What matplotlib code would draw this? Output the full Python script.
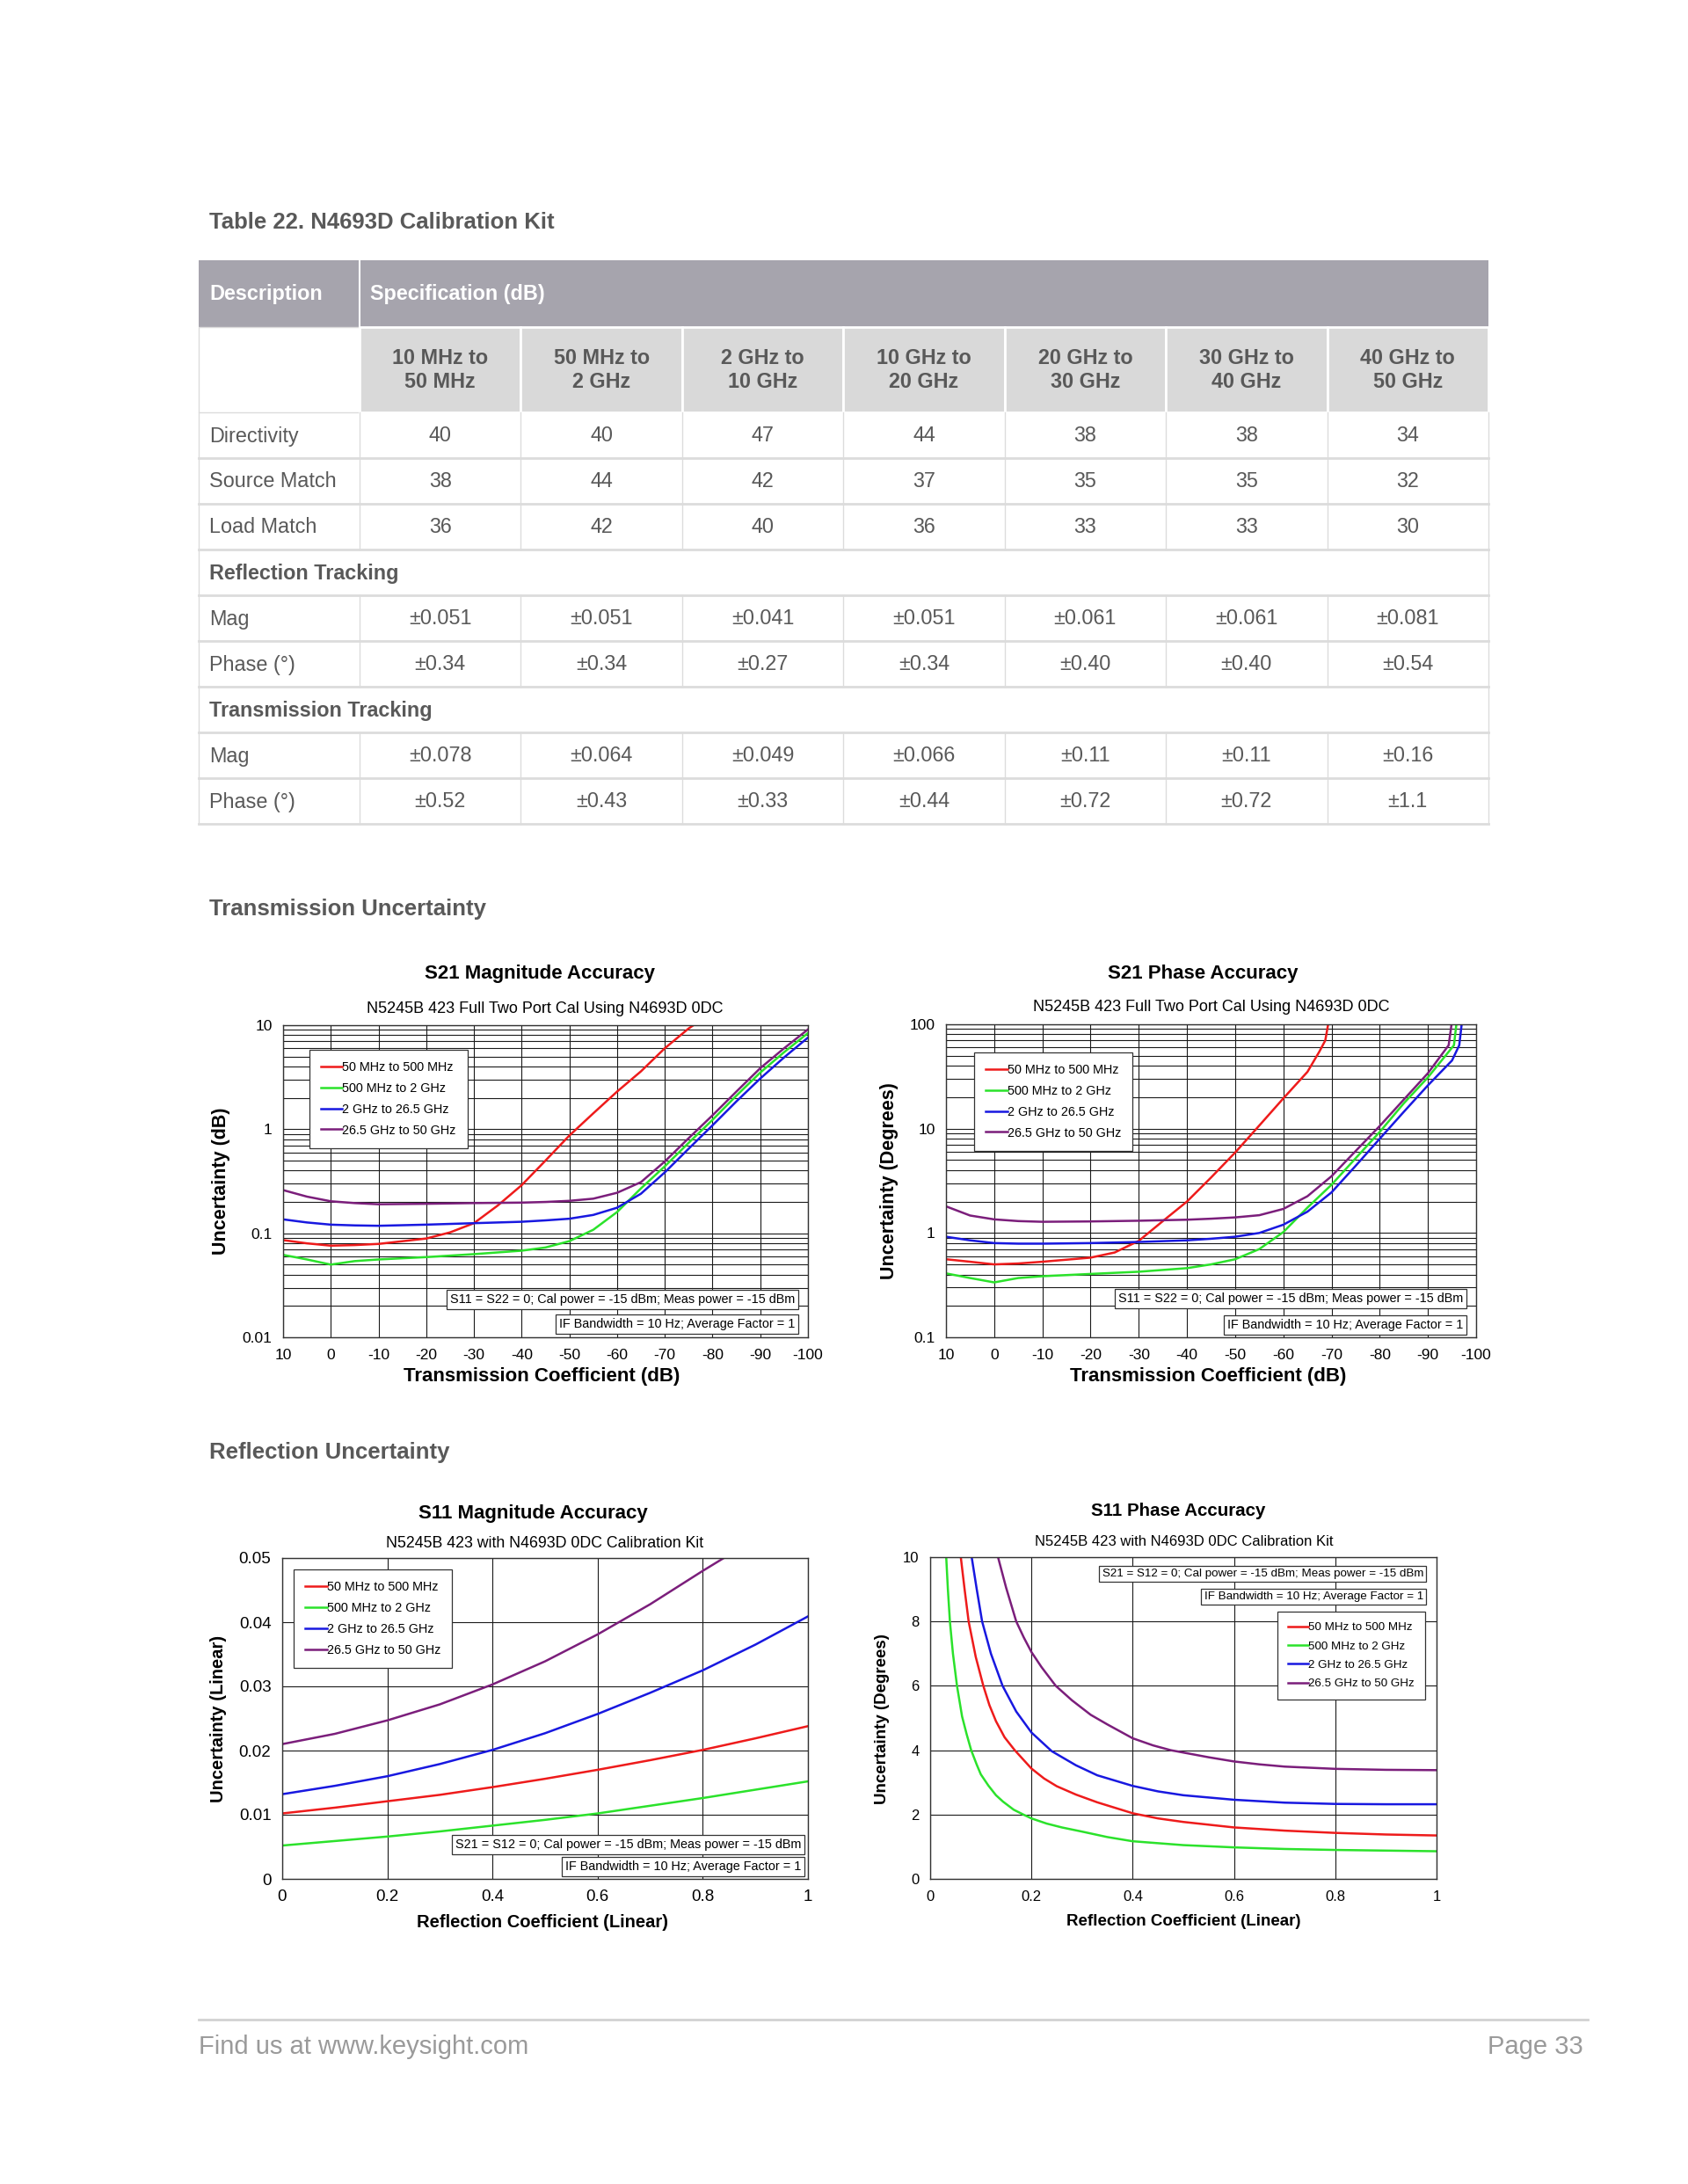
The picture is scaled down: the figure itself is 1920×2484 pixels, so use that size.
import matplotlib.pyplot as plt
from matplotlib.patches import Rectangle
from matplotlib.ticker import FixedLocator, FuncFormatter, NullFormatter

plt.rcParams['font.family'] = ['Liberation Sans', 'DejaVu Sans']
plt.rcParams['axes.unicode_minus'] = False

W, H = 1920, 2484
TXT = '#595959'

# ---------------- table data ----------------
bands = ['10 MHz to\n50 MHz', '50 MHz to\n2 GHz', '2 GHz to\n10 GHz', '10 GHz to\n20 GHz',
         '20 GHz to\n30 GHz', '30 GHz to\n40 GHz', '40 GHz to\n50 GHz']
directivity = ['40', '40', '47', '44', '38', '38', '34']
source_match = ['38', '44', '42', '37', '35', '35', '32']
load_match = ['36', '42', '40', '36', '33', '33', '30']
refl_mag = ['±0.051', '±0.051', '±0.041', '±0.051', '±0.061', '±0.061', '±0.081']
refl_phase = ['±0.34', '±0.34', '±0.27', '±0.34', '±0.40', '±0.40', '±0.54']
trans_mag = ['±0.078', '±0.064', '±0.049', '±0.066', '±0.11', '±0.11', '±0.16']
trans_phase = ['±0.52', '±0.43', '±0.33', '±0.44', '±0.72', '±0.72', '±1.1']

# ---------------- curve data ----------------
series_names = ['50 MHz to 500 MHz', '500 MHz to 2 GHz', '2 GHz to 26.5 GHz', '26.5 GHz to 50 GHz']
colors = ['#ee1b1b', '#2be22b', '#1818e0', '#7b1e7b']

# S21 magnitude (dB) vs transmission coefficient (dB)
s21m_red_x = [10, 5, 0, -5, -10, -20, -25, -30, -35, -40, -45, -50, -55, -60, -65, -70, -75, -76]
s21m_red = [0.086, 0.080, 0.076, 0.077, 0.079, 0.089, 0.102, 0.125, 0.185, 0.29, 0.50, 0.87, 1.42,
            2.3, 3.6, 6.0, 9.3, 10]
s21m_x = [10, 5, 0, -5, -10, -20, -30, -40, -45, -50, -55, -60, -65, -70, -75, -80, -85, -90, -95, -100]
s21m_green = [0.062, 0.056, 0.050, 0.054, 0.056, 0.059, 0.063, 0.068, 0.073, 0.084, 0.108, 0.160,
              0.27, 0.44, 0.74, 1.23, 2.1, 3.5, 5.5, 8.4]
s21m_blue = [0.136, 0.127, 0.121, 0.119, 0.118, 0.121, 0.125, 0.129, 0.133, 0.138, 0.150, 0.176,
             0.24, 0.385, 0.65, 1.09, 1.85, 3.07, 4.9, 7.6]
s21m_purple = [0.26, 0.225, 0.203, 0.195, 0.19, 0.192, 0.195, 0.197, 0.200, 0.205, 0.215, 0.245,
               0.31, 0.49, 0.82, 1.36, 2.3, 3.86, 6.0, 9.1]

# S21 phase (degrees)
s21p_red_x = [10, 5, 0, -5, -10, -20, -25, -30, -35, -40, -45, -50, -55, -60, -65, -67.5, -68.7, -69.3]
s21p_red = [0.56, 0.53, 0.50, 0.51, 0.53, 0.58, 0.65, 0.84, 1.3, 2.0, 3.4, 5.9, 10.7, 19.5, 35, 55,
            70, 100]
s21p_green_x = [10, 5, 0, -5, -10, -20, -30, -40, -45, -50, -55, -60, -65, -70, -75, -80, -85, -90,
                -95.4, -95.9]
s21p_green = [0.41, 0.37, 0.336, 0.37, 0.385, 0.405, 0.425, 0.46, 0.50, 0.56, 0.70, 1.02, 1.75, 2.9,
              5.2, 9.3, 17.5, 31, 63, 100]
s21p_blue_x = [10, 5, 0, -5, -10, -20, -30, -40, -45, -50, -55, -60, -65, -70, -75, -80, -85, -90,
               -95, -96.5, -97]
s21p_blue = [0.92, 0.85, 0.80, 0.79, 0.79, 0.80, 0.82, 0.85, 0.88, 0.92, 1.0, 1.2, 1.6, 2.45, 4.4,
             8.0, 14.5, 26, 45, 63, 100]
s21p_purple_x = [10, 5, 0, -5, -10, -20, -30, -40, -45, -50, -55, -60, -65, -70, -75, -80, -85, -90,
                 -94.3, -94.9]
s21p_purple = [1.8, 1.47, 1.35, 1.3, 1.28, 1.29, 1.31, 1.34, 1.37, 1.41, 1.48, 1.7, 2.25, 3.5, 6.1,
               10.6, 19, 34, 63, 100]

# S11 magnitude (linear) vs reflection coefficient
s11m_x = [0, 0.1, 0.2, 0.3, 0.4, 0.5, 0.6, 0.7, 0.8, 0.9, 1.0]
s11m_red = [0.0102, 0.0111, 0.0121, 0.0131, 0.0143, 0.0156, 0.0170, 0.0185, 0.0201, 0.0219, 0.0238]
s11m_green = [0.0052, 0.0059, 0.0066, 0.0074, 0.0083, 0.0092, 0.0102, 0.0114, 0.0126, 0.0139, 0.0152]
s11m_blue = [0.0132, 0.0145, 0.0160, 0.0179, 0.0201, 0.0227, 0.0257, 0.0290, 0.0325, 0.0365, 0.0409]
s11m_purple_x = [0, 0.1, 0.2, 0.3, 0.4, 0.5, 0.6, 0.7, 0.8, 0.84]
s11m_purple = [0.0210, 0.0226, 0.0247, 0.0272, 0.0303, 0.0339, 0.0381, 0.0428, 0.0480, 0.0500]

# S11 phase (degrees)
s11p_green_x = [0.0317, 0.035, 0.039, 0.045, 0.053, 0.063, 0.072, 0.081, 0.092, 0.10, 0.115, 0.13,
                0.144, 0.165, 0.184, 0.2, 0.23, 0.26, 0.3, 0.35, 0.4, 0.5, 0.6, 0.7, 0.8, 0.9, 1.0]
s11p_green = [10, 9, 8, 7, 6, 5.05, 4.5, 4, 3.55, 3.25, 2.9, 2.6, 2.4, 2.15, 2.0, 1.88, 1.72, 1.6,
              1.47, 1.3, 1.17, 1.05, 0.98, 0.93, 0.90, 0.88, 0.86]
s11p_red_x = [0.0605, 0.068, 0.076, 0.09, 0.105, 0.117, 0.13, 0.147, 0.167, 0.2, 0.225, 0.25, 0.288,
              0.33, 0.4, 0.45, 0.5, 0.6, 0.7, 0.8, 0.9, 1.0]
s11p_red = [10, 9, 8, 6.9, 6, 5.4, 4.9, 4.4, 4.0, 3.43, 3.12, 2.88, 2.62, 2.38, 2.04, 1.88, 1.77,
            1.6, 1.5, 1.43, 1.38, 1.35]
s11p_blue_x = [0.082, 0.092, 0.1026, 0.12, 0.143, 0.17, 0.2, 0.24, 0.288, 0.33, 0.4, 0.45, 0.5, 0.6,
               0.7, 0.8, 0.9, 1.0]
s11p_blue = [10, 9, 8, 7, 6, 5.2, 4.55, 3.97, 3.53, 3.22, 2.89, 2.72, 2.6, 2.46, 2.37, 2.33, 2.32, 2.32]
s11p_purple_x = [0.134, 0.15, 0.17, 0.185, 0.2, 0.22, 0.248, 0.28, 0.317, 0.35, 0.4, 0.44, 0.475,
                 0.55, 0.6, 0.65, 0.7, 0.8, 0.9, 1.0]
s11p_purple = [10, 9.05, 8, 7.5, 7.05, 6.58, 6.0, 5.55, 5.1, 4.8, 4.37, 4.15, 4.0, 3.78, 3.65, 3.56,
               3.49, 3.42, 3.39, 3.38]

notes_s21 = ['S11 = S22 = 0; Cal power = -15 dBm; Meas power = -15 dBm',
             'IF Bandwidth = 10 Hz; Average Factor = 1']
notes_s11 = ['S21 = S12 = 0; Cal power = -15 dBm; Meas power = -15 dBm',
             'IF Bandwidth = 10 Hz; Average Factor = 1']

fig = plt.figure(figsize=(W / 100, H / 100), dpi=100)
fig.patch.set_facecolor('white')

bg = fig.add_axes([0, 0, 1, 1])
bg.set_xlim(0, W)
bg.set_ylim(H, 0)
bg.axis('off')

# ---------------- table ----------------
bg.text(238, 253, 'Table 22. N4693D Calibration Kit', fontsize=18.5, fontweight='bold',
        color=TXT, va='center')

tl, tr = 226, 1693
c0 = 409
cw = (tr - c0) / 7
col_x = [c0 + cw * i for i in range(8)]
LINE = '#dcdcdc'
FS = 16.8

bg.add_patch(Rectangle((tl, 296), tr - tl, 76, fc='#a6a4ad', ec='none'))
bg.plot([c0, c0], [296, 372], color='white', lw=1.5)
bg.text(238, 334, 'Description', fontsize=FS, fontweight='bold', color='white', va='center')
bg.text(421, 334, 'Specification (dB)', fontsize=FS, fontweight='bold', color='white', va='center')

bg.add_patch(Rectangle((tl, 372), c0 - tl, 97, fc='white', ec=LINE, lw=1))
for i, b in enumerate(bands):
    bg.add_patch(Rectangle((col_x[i], 372), cw, 97, fc='#d9d9d9', ec='white', lw=2))
    bg.text(col_x[i] + cw / 2, 421, b, fontsize=FS, fontweight='bold', color=TXT,
            ha='center', va='center', linespacing=1.2)

rows = [('Directivity', directivity), ('Source Match', source_match), ('Load Match', load_match),
        ('Reflection Tracking', None), ('Mag', refl_mag), ('Phase (°)', refl_phase),
        ('Transmission Tracking', None), ('Mag', trans_mag), ('Phase (°)', trans_phase)]
y0 = 469
rh = 52
for r, (name, vals) in enumerate(rows):
    top = y0 + r * rh
    bot = top + rh
    yc = top + rh / 2 + 1
    bg.plot([tl, tr], [bot, bot], color=LINE, lw=2)
    bg.plot([tl, tl], [top, bot], color=LINE, lw=1)
    bg.plot([tr, tr], [top, bot], color=LINE, lw=1)
    if vals is None:
        bg.text(238, yc, name, fontsize=FS, fontweight='bold', color=TXT, va='center')
        continue
    bg.text(238, yc, name, fontsize=FS, color=TXT, va='center')
    for i, v in enumerate(vals):
        bg.plot([col_x[i], col_x[i]], [top, bot], color=LINE, lw=1)
        bg.text(col_x[i] + cw / 2, yc, v, fontsize=FS, color=TXT, ha='center', va='center')

bg.text(238, 1034, 'Transmission Uncertainty', fontsize=18.5, fontweight='bold', color=TXT, va='center')
bg.text(238, 1652, 'Reflection Uncertainty', fontsize=18.5, fontweight='bold', color=TXT, va='center')

# footer
bg.plot([226, 1806], [2297, 2297], color='#d2d2d2', lw=2)
bg.text(226, 2328, 'Find us at www.keysight.com', fontsize=21, color='#9a9a9a', va='center')
bg.text(1801, 2328, 'Page 33', fontsize=21, color='#9a9a9a', va='center', ha='right')


# ---------------- charts ----------------
def make_axes(l, t, r, b):
    return fig.add_axes([l / W, 1 - b / H, (r - l) / W, (b - t) / H])


def style(ax, fs):
    ax.tick_params(which='both', length=0, labelsize=fs, pad=9)
    for s in ax.spines.values():
        s.set_color('#333333')
        s.set_linewidth(1.0)
    ax.grid(True, which='both', color='#1a1a1a', lw=0.8)
    ax.set_axisbelow(True)


def put_text(x, y, s, **kw):
    bg.text(x, y, s, **kw)


def notes(ax, lines, xr, ys, fs):
    for s, y in zip(lines, ys):
        ax.text(xr, y, s, fontsize=fs, ha='right', va='center', zorder=10, transform=bg.transData,
                bbox=dict(boxstyle='square,pad=0.25', fc='white', ec='#333333', lw=0.9))


def legend(ax, loc, anchor, fs):
    lg = ax.legend(loc=loc, bbox_to_anchor=anchor, fontsize=fs, handlelength=1.7,
                   handletextpad=0.0, labelspacing=0.68, borderpad=0.9, fancybox=False,
                   framealpha=1, edgecolor='#333333', borderaxespad=0)
    lg.get_frame().set_linewidth(0.9)
    lg.set_zorder(20)


def num_fmt(v, pos):
    return '%g' % v


# S21 magnitude
ax1 = make_axes(322, 1166, 919, 1521)
ax1.set_yscale('log')
ax1.plot(s21m_red_x, s21m_red, color=colors[0], lw=1.8, label=series_names[0])
ax1.plot(s21m_x, s21m_green, color=colors[1], lw=1.8, label=series_names[1])
ax1.plot(s21m_x, s21m_blue, color=colors[2], lw=1.8, label=series_names[2])
ax1.plot(s21m_x, s21m_purple, color=colors[3], lw=1.8, label=series_names[3])
ax1.set_xlim(10, -100)
ax1.set_ylim(0.01, 10)
ax1.xaxis.set_major_locator(FixedLocator(list(range(10, -101, -10))))
ax1.yaxis.set_major_formatter(FuncFormatter(num_fmt))
ax1.yaxis.set_minor_formatter(NullFormatter())
style(ax1, 12.5)
legend(ax1, 'upper left', (0.05, 0.921), 10.4)
put_text(614, 1107, 'S21 Magnitude Accuracy', fontsize=16, fontweight='bold', ha='center', va='center')
put_text(620, 1148, 'N5245B 423 Full Two Port Cal Using N4693D 0DC', fontsize=13, ha='center', va='center')
put_text(616, 1566, 'Transmission Coefficient (dB)', fontsize=16, fontweight='bold', ha='center', va='center')
put_text(252, 1343, 'Uncertainty (dB)', fontsize=15.5, fontweight='bold', ha='center', va='center', rotation=90)
notes(ax1, notes_s21, 904, [1478, 1506], 10.4)

# S21 phase
ax2 = make_axes(1076, 1165, 1679, 1521)
ax2.set_yscale('log')
ax2.plot(s21p_red_x, s21p_red, color=colors[0], lw=1.8, label=series_names[0])
ax2.plot(s21p_green_x, s21p_green, color=colors[1], lw=1.8, label=series_names[1])
ax2.plot(s21p_blue_x, s21p_blue, color=colors[2], lw=1.8, label=series_names[2])
ax2.plot(s21p_purple_x, s21p_purple, color=colors[3], lw=1.8, label=series_names[3])
ax2.set_xlim(10, -100)
ax2.set_ylim(0.1, 100)
ax2.xaxis.set_major_locator(FixedLocator(list(range(10, -101, -10))))
ax2.yaxis.set_major_formatter(FuncFormatter(num_fmt))
ax2.yaxis.set_minor_formatter(NullFormatter())
style(ax2, 12.5)
legend(ax2, 'upper left', (0.053, 0.91), 10.4)
put_text(1368, 1107, 'S21 Phase Accuracy', fontsize=16, fontweight='bold', ha='center', va='center')
put_text(1378, 1145, 'N5245B 423 Full Two Port Cal Using N4693D 0DC', fontsize=13, ha='center', va='center')
put_text(1374, 1566, 'Transmission Coefficient (dB)', fontsize=16, fontweight='bold', ha='center', va='center')
put_text(1012, 1343, 'Uncertainty (Degrees)', fontsize=15.5, fontweight='bold', ha='center', va='center', rotation=90)
notes(ax2, notes_s21, 1664, [1477, 1507], 10.4)

# S11 magnitude
ax3 = make_axes(321, 1772, 919, 2137)
ax3.plot(s11m_x, s11m_red, color=colors[0], lw=1.8, label=series_names[0])
ax3.plot(s11m_x, s11m_green, color=colors[1], lw=1.8, label=series_names[1])
ax3.plot(s11m_x, s11m_blue, color=colors[2], lw=1.8, label=series_names[2])
ax3.plot(s11m_purple_x, s11m_purple, color=colors[3], lw=1.8, label=series_names[3])
ax3.set_xlim(0, 1)
ax3.set_ylim(0, 0.05)
ax3.xaxis.set_major_locator(FixedLocator([0, 0.2, 0.4, 0.6, 0.8, 1.0]))
ax3.yaxis.set_major_locator(FixedLocator([0, 0.01, 0.02, 0.03, 0.04, 0.05]))
ax3.xaxis.set_major_formatter(FuncFormatter(num_fmt))
ax3.yaxis.set_major_formatter(FuncFormatter(num_fmt))
style(ax3, 13.5)
legend(ax3, 'upper left', (0.022, 0.964), 10.4)
put_text(606, 1721, 'S11 Magnitude Accuracy', fontsize=16, fontweight='bold', ha='center', va='center')
put_text(620, 1755, 'N5245B 423 with N4693D 0DC Calibration Kit', fontsize=12.8, ha='center', va='center')
put_text(617, 2186, 'Reflection Coefficient (Linear)', fontsize=14.5, fontweight='bold', ha='center', va='center')
put_text(248, 1955, 'Uncertainty (Linear)', fontsize=14.5, fontweight='bold', ha='center', va='center', rotation=90)
notes(ax3, notes_s11, 911, [2098, 2123], 10.4)

# S11 phase
ax4 = make_axes(1058, 1771, 1634, 2137)
ax4.plot(s11p_red_x, s11p_red, color=colors[0], lw=1.8, label=series_names[0])
ax4.plot(s11p_green_x, s11p_green, color=colors[1], lw=1.8, label=series_names[1])
ax4.plot(s11p_blue_x, s11p_blue, color=colors[2], lw=1.8, label=series_names[2])
ax4.plot(s11p_purple_x, s11p_purple, color=colors[3], lw=1.8, label=series_names[3])
ax4.set_xlim(0, 1)
ax4.set_ylim(0, 10)
ax4.xaxis.set_major_locator(FixedLocator([0, 0.2, 0.4, 0.6, 0.8, 1.0]))
ax4.yaxis.set_major_locator(FixedLocator([0, 2, 4, 6, 8, 10]))
ax4.xaxis.set_major_formatter(FuncFormatter(num_fmt))
ax4.yaxis.set_major_formatter(FuncFormatter(num_fmt))
style(ax4, 12)
legend(ax4, 'upper right', (0.977, 0.831), 9.6)
put_text(1340, 1719, 'S11 Phase Accuracy', fontsize=14.8, fontweight='bold', ha='center', va='center')
put_text(1347, 1754, 'N5245B 423 with N4693D 0DC Calibration Kit', fontsize=12, ha='center', va='center')
put_text(1346, 2186, 'Reflection Coefficient (Linear)', fontsize=13.5, fontweight='bold', ha='center', va='center')
put_text(1003, 1955, 'Uncertainty (Degrees)', fontsize=13.5, fontweight='bold', ha='center', va='center', rotation=90)
notes(ax4, notes_s11, 1619, [1790, 1816], 9.6)

fig.savefig('out.png', dpi=100)
